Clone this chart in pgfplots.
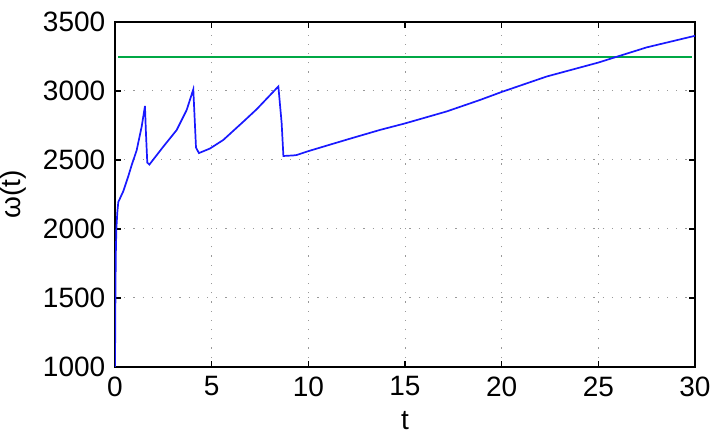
\documentclass[border=0pt]{standalone}
\usepackage{pgfplots}
\pgfplotsset{compat=1.18}
\usepackage{fontspec}
\setmainfont{Liberation Sans}
\definecolor{mblue}{rgb}{0.1,0.1,1}
\definecolor{mgreen}{rgb}{0,0.66,0.27}
\begin{document}
\fontsize{14}{16}\selectfont
\begin{tikzpicture}
\begin{axis}[
  scale only axis,
  width=290pt, height=172.5pt,
  xmin=0, xmax=30, ymin=1000, ymax=3500,
  xtick={0,5,10,15,20,25,30},
  ytick={1000,1500,2000,2500,3000,3500},
  grid=major,
  grid style={gray!80, line width=0.5pt, dash pattern=on 0.6pt off 4pt},
  tick align=inside,
  major tick length=3pt,
  axis line style={line width=0.8pt},
  every tick/.style={black, line width=0.6pt},
  tick label style={font=\fontsize{14}{16}\selectfont},
  label style={font=\fontsize{14}{16}\selectfont},
  /pgf/number format/assume math mode=true,
  /pgf/number format/1000 sep={},
  xlabel={t},
  ylabel={ω(t)},
  xlabel style={yshift=2pt},
  ylabel style={yshift=-1pt},
]
\addplot[mgreen, line width=1pt] coordinates {(0.17,3248) (29.83,3248)};
\addplot[mblue, line width=0.85pt] coordinates {
(0,1000)
(0.02,1450)
(0.04,1800)
(0.07,2000)
(0.12,2120)
(0.17,2195)
(0.43,2274)
(0.69,2383)
(0.86,2462)
(1.12,2570)
(1.38,2742)
(1.55,2891)
(1.60,2698)
(1.67,2481)
(1.78,2467)
(2.50,2597)
(3.19,2717)
(3.71,2863)
(4.05,3012)
(4.19,2590)
(4.34,2550)
(4.91,2583)
(5.60,2645)
(6.64,2778)
(7.33,2868)
(8.45,3033)
(8.62,2767)
(8.71,2529)
(9.22,2533)
(9.40,2536)
(10,2564)
(12,2648)
(13.71,2718)
(15,2765)
(17.16,2852)
(18.88,2935)
(20,2993)
(22.33,3105)
(25,3206)
(25.95,3248)
(27.5,3316)
(30,3400)
};
\end{axis}
\pgfresetboundingbox
\path[use as bounding box] ([xshift=-57.5pt,yshift=-37pt]current axis.south west) rectangle ([xshift=8.5pt,yshift=11pt]current axis.north east);
\end{tikzpicture}
\end{document}
